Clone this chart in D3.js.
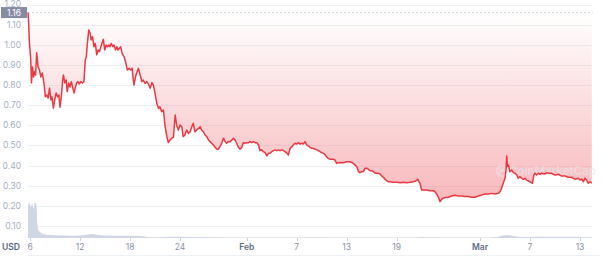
<!DOCTYPE html>
<html>
<head>
<meta charset="utf-8">
<script src="https://cdn.jsdelivr.net/npm/d3@7"></script>
<style>
  body { margin: 0; background: #fff; }
  svg { display: block; font-family: Inter, "Noto Sans", sans-serif; }
</style>
</head>
<body>
<svg id="chart" width="611" height="256"></svg>
<script>
// price series (USD)
var times = [
  "01-05 18","01-05 20","01-05 22","01-06 02","01-06 04","01-06 07","01-06 10","01-06 13","01-06 16","01-06 19","01-06 23",
  "01-07 03","01-07 07","01-07 11","01-07 16","01-07 20","01-08 00","01-08 04","01-08 08","01-08 12","01-08 15","01-08 19","01-08 23",
  "01-09 03","01-09 07","01-09 11","01-09 14","01-09 18","01-09 22","01-10 00","01-10 04","01-10 08","01-10 11","01-10 15","01-10 19","01-10 23",
  "01-11 03","01-11 07","01-11 10","01-11 14","01-11 18","01-11 22","01-12 02","01-12 07","01-12 11","01-12 15","01-12 18","01-12 21",
  "01-13 01","01-13 05","01-13 08","01-13 12","01-13 16","01-13 20","01-14 00","01-14 04","01-14 08","01-14 12","01-14 15","01-14 19","01-14 23",
  "01-15 03","01-15 07","01-15 11","01-15 14","01-15 18","01-15 22","01-16 02","01-16 06","01-16 10","01-16 13","01-16 17","01-16 21",
  "01-17 01","01-17 07","01-17 12","01-17 16","01-17 21","01-18 02","01-18 06","01-18 11","01-18 17",
  "01-19 00","01-19 05","01-19 10","01-19 14","01-19 19","01-20 00","01-20 05","01-20 10","01-20 15","01-20 19",
  "01-21 00","01-21 05","01-21 10","01-21 14","01-21 19","01-22 00","01-22 05","01-22 10","01-22 14","01-22 19",
  "01-23 00","01-23 05","01-23 08","01-23 10","01-23 14","01-23 19","01-24 00","01-24 05","01-24 09","01-24 14","01-24 19",
  "01-25 00","01-25 05","01-25 10","01-25 14","01-25 19","01-26 00","01-26 05","01-26 10","01-26 14","01-26 19",
  "01-27 00","01-27 05","01-27 10","01-27 14","01-27 19","01-28 00","01-28 05","01-28 10","01-28 14","01-28 19",
  "01-29 00","01-29 05","01-29 10","01-29 14","01-29 19","01-30 00","01-30 05","01-30 10","01-30 14","01-30 19",
  "01-31 00","01-31 05","01-31 10","01-31 14","01-31 19","02-01 00","02-01 05","02-01 10","02-01 14","02-01 19",
  "02-02 00","02-02 05","02-02 10","02-02 14","02-02 19","02-03 00","02-03 05","02-03 10","02-03 14","02-03 19",
  "02-04 00","02-04 05","02-04 10","02-04 14","02-04 19","02-05 00","02-05 05","02-05 10","02-05 14","02-05 19",
  "02-06 00","02-06 05","02-06 10","02-06 14","02-06 19","02-07 00","02-07 05","02-07 10","02-07 14","02-07 19",
  "02-08 00","02-08 05","02-08 10","02-08 14","02-08 19","02-09 00","02-09 05","02-09 10","02-09 14","02-09 19",
  "02-10 00","02-10 05","02-10 10","02-10 14","02-10 19","02-11 00","02-11 05","02-11 10","02-11 14","02-11 19",
  "02-12 00","02-12 05","02-12 14","02-13 00","02-13 10","02-13 19","02-14 05","02-14 10","02-14 14","02-14 19",
  "02-15 00","02-15 05","02-15 10","02-15 14","02-15 19","02-16 00","02-16 05","02-16 10","02-16 14","02-16 19",
  "02-17 00","02-17 05","02-17 10","02-17 14","02-17 19","02-18 00","02-18 05","02-18 14","02-19 00","02-19 10","02-19 19",
  "02-20 05","02-20 14","02-21 00","02-21 08","02-21 13","02-21 16","02-21 19","02-22 00","02-22 05","02-22 14",
  "02-23 00","02-23 10","02-23 14","02-23 19","02-24 00","02-24 05","02-24 10","02-24 14","02-24 19",
  "02-25 05","02-25 14","02-26 00","02-26 10","02-26 19","02-27 05","02-27 14","02-28 00","02-28 10","02-28 19",
  "03-01 05","03-01 14","03-02 00","03-02 10","03-02 19","03-03 05","03-03 10","03-03 14","03-03 19",
  "03-04 00","03-04 03","03-04 05","03-04 07","03-04 10","03-04 14","03-04 19","03-05 00","03-05 05","03-05 10","03-05 14","03-05 19",
  "03-06 00","03-06 05","03-06 10","03-06 14","03-07 00","03-07 07","03-07 11","03-07 14","03-07 19",
  "03-08 00","03-08 05","03-08 10","03-08 19","03-09 00","03-09 05","03-09 14","03-10 00","03-10 10","03-10 19",
  "03-11 05","03-11 14","03-12 00","03-12 10","03-12 19","03-13 00","03-13 05","03-13 10","03-13 14","03-13 19",
  "03-14 00","03-14 05","03-14 10"
];
var prices = [
  1.16,1.107,1.01,0.925,0.81,0.89,0.84,0.866,0.85,0.96,0.89,
  0.875,0.84,0.86,0.81,0.742,0.75,0.735,0.785,0.726,0.742,0.686,0.726,
  0.76,0.742,0.75,0.69,0.742,0.825,0.85,0.81,0.825,0.767,0.81,0.79,0.817,
  0.785,0.76,0.785,0.81,0.817,0.805,0.817,0.81,0.817,0.925,0.94,1.007,
  1.073,1.057,1.024,1.04,0.99,1.007,0.95,0.974,0.966,0.99,1.007,1.027,0.974,
  0.999,0.99,0.999,0.99,1.007,0.99,0.999,0.974,0.99,0.974,0.982,0.99,
  0.957,0.94,0.908,0.875,0.883,0.875,0.883,0.80,0.85,
  0.883,0.85,0.817,0.825,0.808,0.817,0.805,0.784,0.812,0.80,
  0.759,0.709,0.684,0.692,0.668,0.676,0.593,0.544,0.514,0.527,
  0.536,0.541,0.61,0.651,0.602,0.577,0.602,0.593,0.544,0.552,0.577,
  0.56,0.568,0.593,0.61,0.568,0.577,0.585,0.593,0.577,0.568,
  0.552,0.544,0.527,0.519,0.511,0.502,0.491,0.481,0.481,0.494,
  0.511,0.536,0.519,0.511,0.519,0.519,0.527,0.536,0.527,0.511,
  0.491,0.481,0.491,0.514,0.511,0.514,0.514,0.519,0.514,0.519,
  0.514,0.514,0.502,0.474,0.478,0.469,0.464,0.448,0.461,0.461,
  0.469,0.474,0.478,0.474,0.478,0.474,0.478,0.474,0.469,0.464,
  0.453,0.486,0.494,0.502,0.511,0.507,0.514,0.507,0.511,0.507,
  0.519,0.502,0.497,0.491,0.486,0.486,0.481,0.478,0.474,0.469,
  0.464,0.461,0.453,0.444,0.436,0.431,0.431,0.431,0.428,0.411,
  0.414,0.415,0.414,0.419,0.419,0.411,0.395,0.37,0.365,0.37,
  0.37,0.387,0.387,0.382,0.375,0.375,0.37,0.362,0.362,0.362,
  0.358,0.348,0.342,0.332,0.325,0.32,0.32,0.317,0.317,0.315,0.317,
  0.315,0.317,0.32,0.325,0.332,0.32,0.312,0.279,0.279,0.279,
  0.275,0.275,0.271,0.259,0.243,0.221,0.233,0.238,0.241,
  0.243,0.249,0.253,0.249,0.249,0.246,0.246,0.243,0.243,0.249,
  0.254,0.259,0.259,0.262,0.259,0.262,0.271,0.287,0.312,
  0.337,0.378,0.448,0.395,0.403,0.37,0.378,0.365,0.362,0.353,0.337,0.345,
  0.337,0.332,0.337,0.328,0.32,0.312,0.353,0.362,0.353,
  0.362,0.357,0.362,0.358,0.365,0.362,0.362,0.353,0.357,0.348,
  0.348,0.342,0.342,0.332,0.337,0.328,0.332,0.32,0.337,0.328,
  0.312,0.32,0.312
];

// trading volume (million USD)
var volTimes = [
  "01-05 18","01-05 22","01-06 02","01-06 06","01-06 10","01-06 14","01-06 18","01-06 21",
  "01-07 00","01-07 08","01-08 00","01-09 00","01-10 00","01-11 00","01-12 00","01-13 00","01-13 12","01-14 00",
  "01-15 00","01-16 00","01-17 00","01-18 00","01-19 00","01-19 12","01-20 00","01-21 00","01-22 00",
  "01-24 00","01-26 00","01-28 00","01-30 00","02-01 00","02-03 00","02-05 00","02-07 00","02-09 00",
  "02-11 00","02-13 00","02-15 00","02-17 00","02-19 00","02-21 00","02-22 00","02-23 00","02-25 00","02-27 00",
  "03-01 00","03-03 00","03-04 00","03-04 12","03-05 00","03-06 00","03-07 00","03-09 00","03-11 00","03-13 00","03-14 10"
];
var volumes = [
  180,200,175,195,165,200,190,80,
  45,28,18,16,14,13,14,20,23,18,
  14,13,12,12,11,10,6,4,6,
  7,5,4,3,3,3,2.5,3,4,
  3,2.5,2.5,2.5,2.5,3,6,4,3,2.5,
  3,6,15,16,11,5,6,7,7,6,4
];

var yTicks = [0.10,0.20,0.30,0.40,0.50,0.60,0.70,0.80,0.90,1.00,1.10,1.20];
var xTickDates = ["01-06","01-12","01-18","01-24","02-01","02-07","02-13","02-19","03-01","03-07","03-13"];
var openPrice = 1.16;

var parseT = d3.timeParse("%Y-%m-%d %H");
var parseD = d3.timeParse("%Y-%m-%d");
var data = times.map(function (t, i) { return { date: parseT("2022-" + t), price: prices[i] }; });
var vol = volTimes.map(function (t, i) { return { date: parseT("2022-" + t), v: volumes[i] }; });

var svg = d3.select("#chart");
var left = 28, right = 591.8, baseY = 238;

var x = d3.scaleTime().domain(d3.extent(data, function (d) { return d.date; })).range([left, right]);
var y = d3.scaleLinear().domain([0.1, 1.2]).range([226, 4.5]);
var yv = d3.scaleLinear().domain([0, 200]).range([baseY, 202.5]);

// gradient for the area between open price and the line
var defs = svg.append("defs");
var grad = defs.append("linearGradient").attr("id", "redfade")
  .attr("gradientUnits", "userSpaceOnUse").attr("x1", 0).attr("x2", 0)
  .attr("y1", y(openPrice)).attr("y2", y(0.22));
grad.append("stop").attr("offset", 0).attr("stop-color", "#ea3943").attr("stop-opacity", 0.0);
grad.append("stop").attr("offset", 1).attr("stop-color", "#ea3943").attr("stop-opacity", 0.36);

// grid
svg.append("g").selectAll("line").data(yTicks).enter().append("line")
  .attr("x1", left).attr("x2", right + 1)
  .attr("y1", function (d) { return Math.round(y(d)) + 0.5; })
  .attr("y2", function (d) { return Math.round(y(d)) + 0.5; })
  .attr("stroke", "#eff2f5").attr("stroke-width", 1);

svg.append("g").selectAll("text").data(yTicks).enter().append("text")
  .attr("x", 21).attr("y", function (d) { return y(d); })
  .attr("dy", "0.35em").attr("text-anchor", "end")
  .attr("font-size", 8.5).attr("fill", "#a6b0c3")
  .text(function (d) { return d.toFixed(2); });

// area
svg.append("path").datum(data)
  .attr("fill", "url(#redfade)")
  .attr("d", d3.area().x(function (d) { return x(d.date); }).y0(y(openPrice)).y1(function (d) { return y(d.price); }));

// volume
svg.append("path").datum(vol)
  .attr("fill", "#cfd6e4")
  .attr("d", d3.area().curve(d3.curveMonotoneX).x(function (d) { return x(d.date); }).y0(baseY).y1(function (d) { return yv(d.v); }));

// watermark
var wm = svg.append("g").attr("opacity", 0.55);
wm.append("circle").attr("cx", 502).attr("cy", 171).attr("r", 5.2).attr("fill", "none").attr("stroke", "#e6e9ef").attr("stroke-width", 1.6);
wm.append("path").attr("d", "M499 173.5 L500.5 169 L502 172 L503.5 169 L505 173.5").attr("fill", "none").attr("stroke", "#e6e9ef").attr("stroke-width", 1.1);
wm.append("text").attr("x", 509).attr("y", 175).attr("font-size", 11.5).attr("font-weight", 600)
  .attr("fill", "#e6e9ef").text("CoinMarketCap");

// open price reference
svg.append("line").attr("x1", left).attr("x2", right + 1)
  .attr("y1", y(openPrice)).attr("y2", y(openPrice))
  .attr("stroke", "#c9ced8").attr("stroke-dasharray", "2,2").attr("stroke-width", 0.8);

// price line
svg.append("path").datum(data)
  .attr("fill", "none").attr("stroke", "#ea3943").attr("stroke-width", 1.5)
  .attr("stroke-linejoin", "round")
  .attr("d", d3.line().x(function (d) { return x(d.date); }).y(function (d) { return y(d.price); }));

// open price badge
svg.append("rect").attr("x", 1).attr("y", y(openPrice) - 5.5).attr("width", 26).attr("height", 11).attr("fill", "#858ca2");
svg.append("text").attr("x", 14).attr("y", y(openPrice)).attr("dy", "0.35em").attr("text-anchor", "middle")
  .attr("font-size", 8.5).attr("fill", "#fff").text(openPrice.toFixed(2));

// x axis
var xt = xTickDates.map(function (s) { return parseD("2022-" + s); });
svg.append("line").attr("x1", left).attr("x2", right + 8).attr("y1", 255.5).attr("y2", 255.5).attr("stroke", "#eff2f5");
svg.append("g").selectAll("line").data(xt).enter().append("line")
  .attr("x1", function (d) { return Math.round(x(d)) + 0.5; }).attr("x2", function (d) { return Math.round(x(d)) + 0.5; })
  .attr("y1", baseY).attr("y2", baseY + 3).attr("stroke", "#cfd6e4");
svg.append("g").selectAll("text").data(xt).enter().append("text")
  .attr("x", function (d) { return x(d); }).attr("y", 247).attr("dy", "0.35em")
  .attr("text-anchor", "middle").attr("font-size", 8.5)
  .attr("font-weight", function (d) { return d.getDate() === 1 ? 600 : 400; })
  .attr("fill", function (d) { return d.getDate() === 1 ? "#616e85" : "#8a93a6"; })
  .text(function (d) { return d.getDate() === 1 ? d3.timeFormat("%b")(d) : d.getDate(); });

svg.append("text").attr("x", 2).attr("y", 247).attr("dy", "0.35em")
  .attr("font-size", 8.5).attr("font-weight", 600).attr("fill", "#58667e").text("USD");
</script>
</body>
</html>
